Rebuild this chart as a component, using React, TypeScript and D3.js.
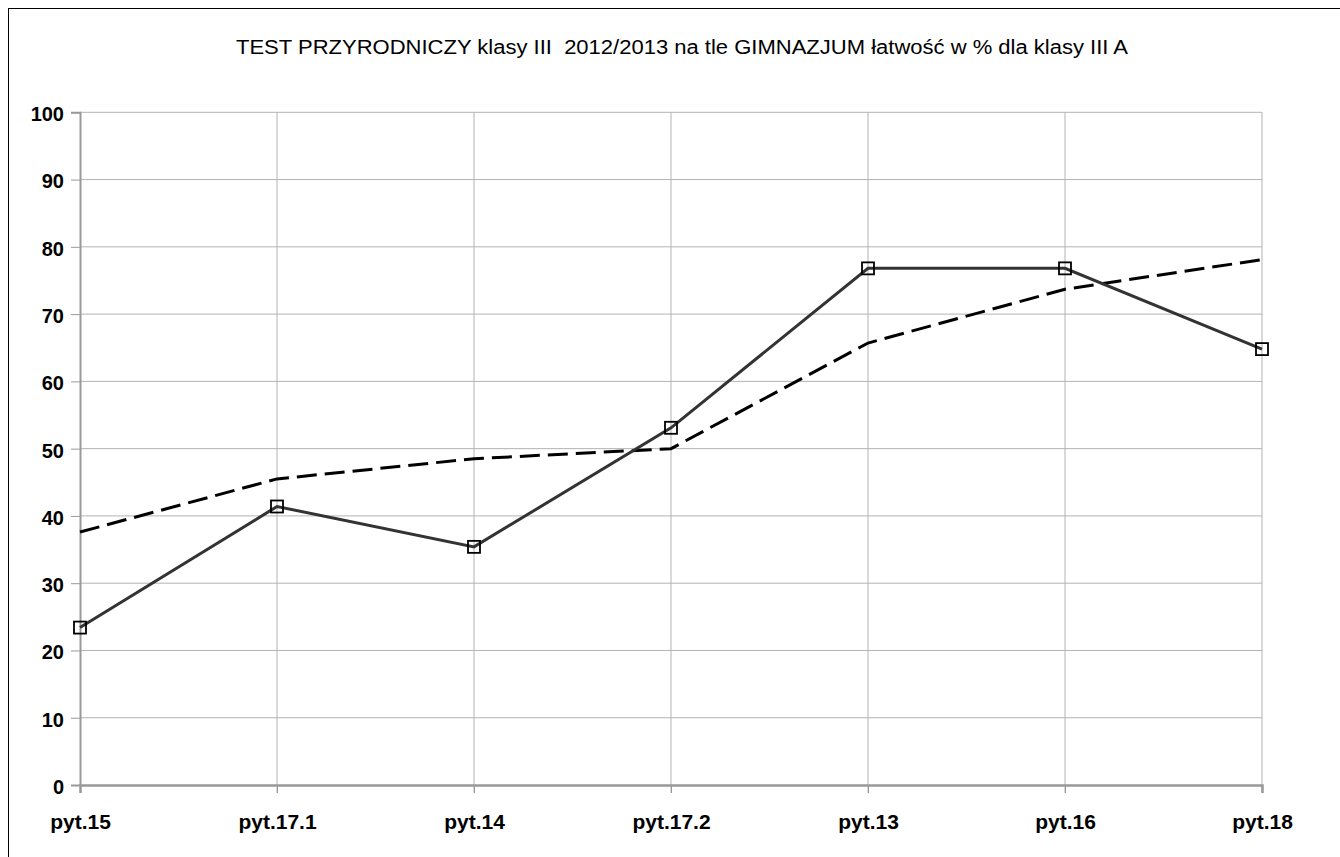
import React, { useEffect, useRef } from 'react';
import * as d3 from 'd3';

const categories = ['pyt.15', 'pyt.17.1', 'pyt.14', 'pyt.17.2', 'pyt.13', 'pyt.16', 'pyt.18'];
const klasaValues = [23.4, 41.4, 35.4, 53.1, 76.8, 76.8, 64.8];
const gimnazjumValues = [37.6, 45.5, 48.5, 50.0, 65.7, 73.7, 78.1];
const yTicks = [0, 10, 20, 30, 40, 50, 60, 70, 80, 90, 100];
const title = 'TEST PRZYRODNICZY klasy III  2012/2013 na tle GIMNAZJUM łatwość w % dla klasy III A';

const App = () => {
  const ref = useRef<SVGSVGElement>(null);

  useEffect(() => {
    const W = 1340, H = 857;
    const left = 80, right = 1262, top = 112.3, bottom = 785;
    const font = 'Liberation Sans, Arial, sans-serif';

    const svg = d3.select(ref.current);
    svg.selectAll('*').remove();

    // frame round the whole chart
    svg.append('rect')
      .attr('x', 8.5).attr('y', 8.5)
      .attr('width', W).attr('height', H)
      .attr('fill', 'white').attr('stroke', '#000').attr('stroke-width', 1);

    svg.append('text')
      .attr('x', 236).attr('y', 54)
      .attr('font-family', font)
      .attr('font-size', 20)
      .attr('textLength', 892)
      .attr('lengthAdjust', 'spacingAndGlyphs')
      .attr('fill', '#000')
      .style('white-space', 'pre')
      .text(title);

    const x = d3.scalePoint().domain(categories).range([left, right]);
    const y = d3.scaleLinear().domain([0, 100]).range([bottom, top]);

    // horizontal grid
    svg.append('g')
      .selectAll('line')
      .data(yTicks.filter((t) => t > 0))
      .enter()
      .append('line')
      .attr('x1', left).attr('x2', right)
      .attr('y1', (d) => y(d)).attr('y2', (d) => y(d))
      .attr('stroke', '#b3b3b3').attr('stroke-width', 1);

    // vertical grid
    svg.append('g')
      .selectAll('line')
      .data(categories.slice(1))
      .enter()
      .append('line')
      .attr('x1', (d) => x(d)!).attr('x2', (d) => x(d)!)
      .attr('y1', top).attr('y2', bottom + 8)
      .attr('stroke', '#b3b3b3').attr('stroke-width', 1);

    // Y axis
    const yAxis = svg.append('g')
      .attr('transform', `translate(${left},0)`)
      .call(d3.axisLeft(y).tickValues(yTicks).tickSize(9).tickPadding(7));
    yAxis.select('.domain').attr('stroke', '#999').attr('stroke-width', 2);
    yAxis.selectAll('.tick line').attr('stroke', '#999');
    yAxis.selectAll('.tick text')
      .attr('font-family', font)
      .attr('font-size', 20)
      .attr('font-weight', 'bold')
      .attr('dy', '0.42em')
      .attr('fill', '#000');

    // X axis
    const xAxis = svg.append('g')
      .attr('transform', `translate(0,${bottom})`)
      .call(d3.axisBottom(x).tickSize(8).tickPadding(21));
    xAxis.select('.domain').attr('stroke', '#999').attr('stroke-width', 2.5);
    xAxis.selectAll('.tick line').attr('stroke', '#999');
    xAxis.selectAll('.tick text')
      .attr('font-family', font)
      .attr('font-size', 21)
      .attr('font-weight', 'bold')
      .attr('fill', '#000');

    const line = d3.line<number>()
      .x((_, i) => x(categories[i])!)
      .y((d) => y(d));

    // gimnazjum - dashed
    svg.append('path')
      .datum(gimnazjumValues)
      .attr('d', line)
      .attr('fill', 'none')
      .attr('stroke', '#000')
      .attr('stroke-width', 3)
      .attr('stroke-dasharray', '20,8');

    // klasa III A - solid with square markers
    svg.append('path')
      .datum(klasaValues)
      .attr('d', line)
      .attr('fill', 'none')
      .attr('stroke', '#333')
      .attr('stroke-width', 3);

    svg.append('g')
      .selectAll('rect')
      .data(klasaValues)
      .enter()
      .append('rect')
      .attr('x', (_, i) => x(categories[i])! - 6)
      .attr('y', (d) => y(d) - 6)
      .attr('width', 12).attr('height', 12)
      .attr('fill', 'none')
      .attr('stroke', '#000')
      .attr('stroke-width', 1.8);
  }, []);

  return (
    <svg
      ref={ref}
      width={1340}
      height={857}
      style={{ position: 'absolute', left: 0, top: 0, display: 'block' }}
    />
  );
};

export default App;
